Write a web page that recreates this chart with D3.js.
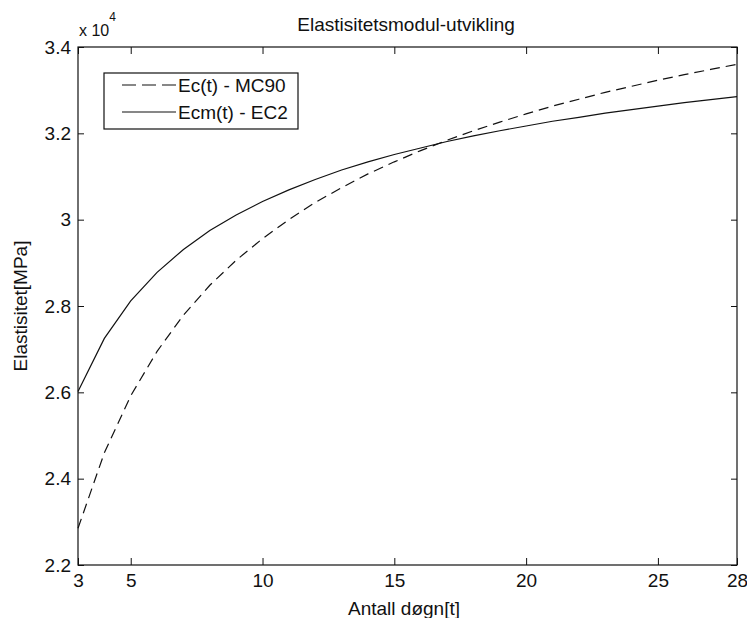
<!DOCTYPE html>
<html>
<head>
<meta charset="utf-8">
<script src="https://cdn.jsdelivr.net/npm/d3@7"></script>
<style>
  body { margin: 0; background: #fff; }
  svg text { font-family: 'Liberation Sans', Arial, sans-serif; fill: #111; }
</style>
</head>
<body>
<div id="chart"></div>
<script>
// days
const days = [3, 4, 5, 6, 7, 8, 9, 10, 11, 12, 13, 14, 15, 16, 17, 18, 19, 20, 21, 22, 23, 24, 25, 26, 27, 28];
// Ec(t) - MC90 [MPa]
const ecMC90 = [22850, 24600, 25920, 26950, 27790, 28480, 29060, 29560, 30000, 30400, 30740, 31060, 31340, 31600, 31840, 32060, 32260, 32450, 32630, 32790, 32950, 33090, 33230, 33360, 33480, 33600];
// Ecm(t) - EC2 [MPa]
const ecmEC2 = [26020, 27250, 28120, 28780, 29310, 29750, 30110, 30420, 30690, 30930, 31150, 31340, 31510, 31660, 31810, 31940, 32060, 32170, 32280, 32370, 32470, 32550, 32630, 32710, 32780, 32850];
const xTicks = [3, 5, 10, 15, 20, 25, 28];
const yTicks = [22000, 24000, 26000, 28000, 30000, 32000, 34000];
const legendLabels = ['Ec(t) - MC90', 'Ecm(t) - EC2'];

const W = 747, H = 618;
const box = { left: 78, right: 737, top: 47, bottom: 565 };
const fontSize = 19;

const svg = d3.select('#chart')
  .append('svg')
  .attr('width', W)
  .attr('height', H);

const x = d3.scaleLinear().domain([3, 28]).range([box.left, box.right]);
const y = d3.scaleLinear().domain([22000, 34000]).range([box.bottom, box.top]);

const styleAxis = g => {
  g.select('.domain').remove();
  g.selectAll('line').attr('stroke', '#111');
  g.selectAll('text').style('font-size', fontSize + 'px').attr('fill', '#111');
};

// bottom / left with labels, ticks point inward
svg.append('g')
  .attr('transform', `translate(0,${box.bottom})`)
  .call(d3.axisBottom(x).tickValues(xTicks).tickSizeInner(-7).tickSizeOuter(0).tickPadding(9).tickFormat(d3.format('d')))
  .call(styleAxis);
svg.append('g')
  .attr('transform', `translate(${box.left},0)`)
  .call(d3.axisLeft(y).tickValues(yTicks).tickSizeInner(-6).tickSizeOuter(0).tickPadding(7).tickFormat(d => String(+(d / 1e4).toFixed(1))))
  .call(styleAxis);
// top / right, ticks only
svg.append('g')
  .attr('transform', `translate(0,${box.top})`)
  .call(d3.axisTop(x).tickValues(xTicks).tickSizeInner(-7).tickSizeOuter(0).tickFormat(''))
  .call(styleAxis);
svg.append('g')
  .attr('transform', `translate(${box.right},0)`)
  .call(d3.axisRight(y).tickValues(yTicks).tickSizeInner(-6).tickSizeOuter(0).tickFormat(''))
  .call(styleAxis);

svg.append('rect')
  .attr('x', box.left)
  .attr('y', box.top)
  .attr('width', box.right - box.left)
  .attr('height', box.bottom - box.top)
  .attr('fill', 'none')
  .attr('stroke', '#111')
  .attr('stroke-width', 1.2);

const line = vals => d3.line()
  .x((d, i) => x(days[i]))
  .y(d => y(d))(vals);

svg.append('path')
  .attr('d', line(ecMC90))
  .attr('fill', 'none')
  .attr('stroke', '#111')
  .attr('stroke-width', 1.2)
  .attr('stroke-dasharray', '10,6');
svg.append('path')
  .attr('d', line(ecmEC2))
  .attr('fill', 'none')
  .attr('stroke', '#111')
  .attr('stroke-width', 1.2);

// title and labels
svg.append('text')
  .attr('x', 406)
  .attr('y', 31)
  .attr('text-anchor', 'middle')
  .style('font-size', fontSize + 'px')
  .text('Elastisitetsmodul-utvikling');
svg.append('text')
  .attr('x', 404)
  .attr('y', 615)
  .attr('text-anchor', 'middle')
  .style('font-size', fontSize + 'px')
  .text('Antall døgn[t]');
svg.append('text')
  .attr('transform', `translate(27,${(box.top + box.bottom) / 2}) rotate(-90)`)
  .attr('text-anchor', 'middle')
  .style('font-size', fontSize + 'px')
  .text('Elastisitet[MPa]');

// exponent
const expo = svg.append('text')
  .attr('x', 79)
  .attr('y', 36)
  .style('font-size', '16px');
expo.append('tspan').text('x 10');
expo.append('tspan')
  .attr('dy', -15)
  .style('font-size', '12px')
  .text('4');

// legend
const legend = svg.append('g');
legend.append('rect')
  .attr('x', 104)
  .attr('y', 73)
  .attr('width', 194)
  .attr('height', 56)
  .attr('fill', '#fff')
  .attr('stroke', '#111')
  .attr('stroke-width', 1.2);
const rowsY = [85, 112];
for (const [i, label] of legendLabels.entries()) {
  legend.append('line')
    .attr('x1', 122)
    .attr('x2', 176)
    .attr('y1', rowsY[i])
    .attr('y2', rowsY[i])
    .attr('stroke', '#111')
    .attr('stroke-width', 1.2)
    .attr('stroke-dasharray', i === 0 ? '14,6' : null);
  legend.append('text')
    .attr('x', 178)
    .attr('y', rowsY[i] + 7)
    .style('font-size', fontSize + 'px')
    .text(label);
}
</script>
</body>
</html>
